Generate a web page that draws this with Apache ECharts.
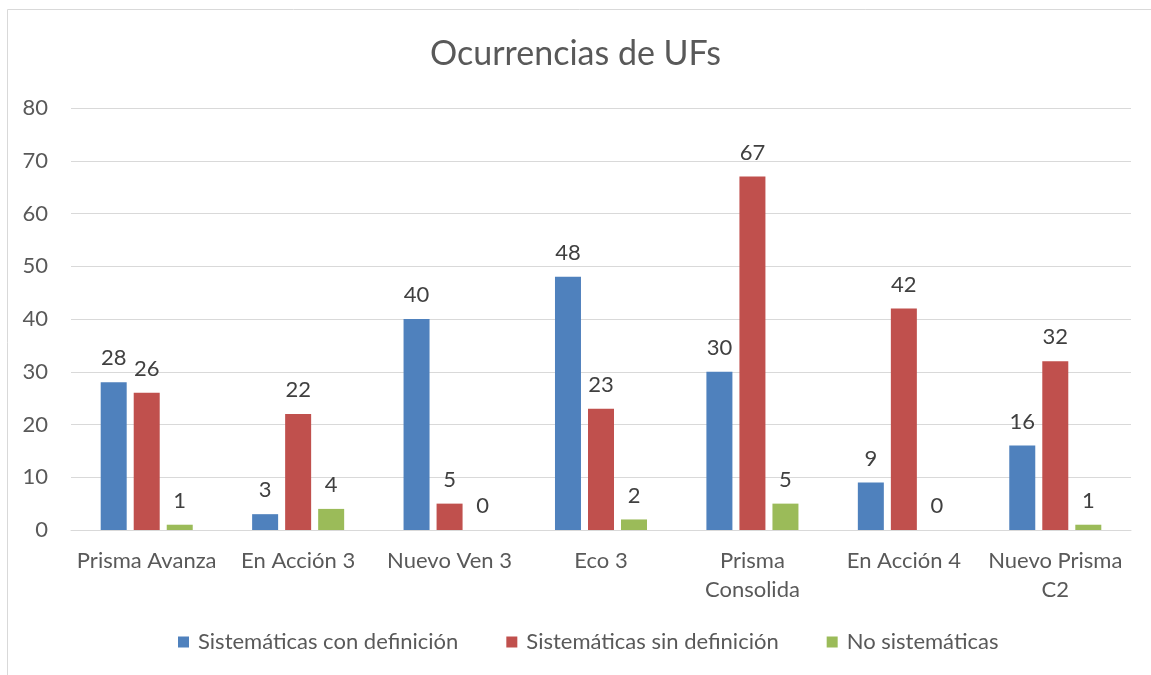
<!DOCTYPE html>
<html><head><meta charset="utf-8">
<script src="https://cdn.jsdelivr.net/npm/echarts@6/dist/echarts.min.js"></script>
<style>html,body{margin:0;padding:0;background:#fff}#c{width:1151px;height:675px}</style>
</head><body><div id="c"></div>
<script>
const categories = ['Prisma Avanza','En Acción 3','Nuevo Ven 3','Eco 3','Prisma\nConsolida','En Acción 4','Nuevo Prisma\nC2'];
const seriesNames = ['Sistemáticas con definición','Sistemáticas sin definición','No sistemáticas'];
const conDef = [28, 3, 40, 48, 30, 9, 16];
const sinDef = [26, 22, 5, 23, 67, 42, 32];
const noSis = [1, 4, 0, 2, 5, 0, 1];
const yTicks = [0,10,20,30,40,50,60,70,80];
const colors = ['#4F81BD','#C0504D','#9BBB59'];
const font = 'Lato, "Open Sans", sans-serif';

const chart = echarts.init(document.getElementById('c'));
const mk = (name, data, i) => ({
  name, type: 'bar', data, barWidth: 26, barGap: '27%',
  itemStyle: {color: colors[i]},
  label: {show: true, position: 'top', distance: 13, color: '#404040', fontSize: 22, fontFamily: font},
  emphasis: {disabled: true}
});
chart.setOption({
  animation: false,
  graphic: [{type: 'rect', shape: {x: 7.5, y: 9.5, width: 1300, height: 800}, style: {fill: 'none', stroke: '#d9d9d9', lineWidth: 1}}],
  title: {text: 'Ocurrencias de UFs', left: 'center', top: 32, textStyle: {fontFamily: font, fontSize: 34, fontWeight: 'normal', color: '#595959'}},
  legend: {bottom: 17, left: 173, itemWidth: 11, itemHeight: 11, itemGap: 48, icon: 'rect',
    textStyle: {fontFamily: font, fontSize: 22, color: '#595959', padding: [0, 0, 0, 4]}, data: seriesNames},
  grid: {left: 71, right: 20, top: 108, bottom: 145, containLabel: false},
  xAxis: {type: 'category', data: categories,
    axisLine: {lineStyle: {color: '#d9d9d9', width: 1}}, axisTick: {show: false},
    axisLabel: {interval: 0, color: '#595959', fontFamily: font, fontSize: 22, margin: 16, lineHeight: 29}},
  yAxis: {type: 'value', min: yTicks[0], max: yTicks[yTicks.length-1], interval: 10,
    splitLine: {lineStyle: {color: '#d9d9d9', width: 1}}, axisLine: {show: false}, axisTick: {show: false},
    axisLabel: {color: '#595959', fontFamily: font, fontSize: 22, margin: 23}},
  series: [mk(seriesNames[0], conDef, 0), mk(seriesNames[1], sinDef, 1), mk(seriesNames[2], noSis, 2)]
});
</script></body></html>
